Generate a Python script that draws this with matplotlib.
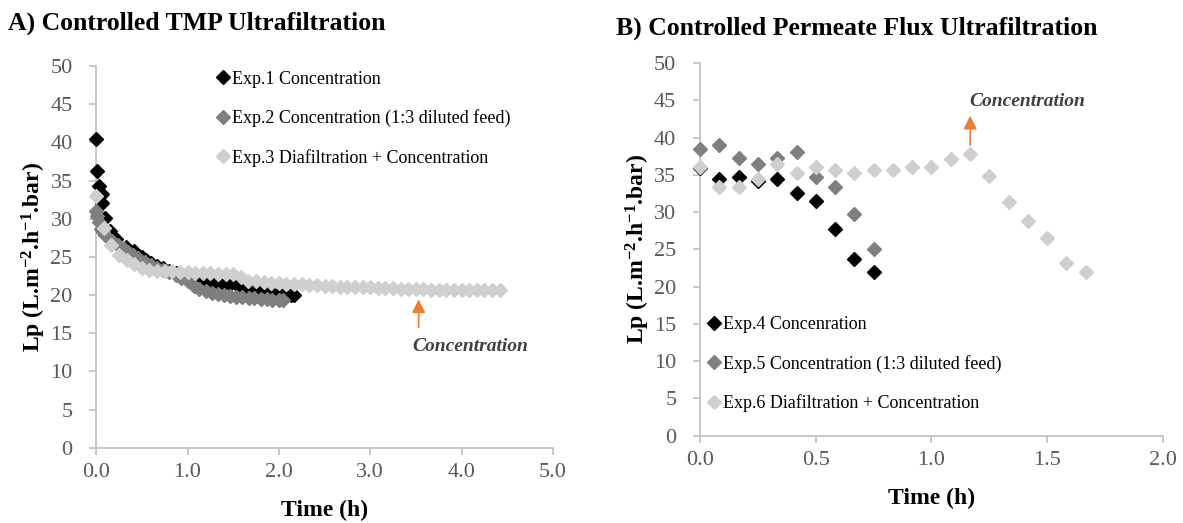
import matplotlib
matplotlib.use("Agg")
import matplotlib.pyplot as plt
from matplotlib.lines import Line2D

plt.rcParams['font.family'] = ['Liberation Serif', 'DejaVu Serif']
plt.rcParams['mathtext.fontset'] = 'custom'
plt.rcParams['mathtext.rm'] = 'Liberation Serif'
plt.rcParams['mathtext.bf'] = 'Liberation Serif:bold'
plt.rcParams['mathtext.it'] = 'Liberation Serif:italic'

# ---- panel A: controlled TMP (time in h, Lp) ----
t_exp1 = [0.0, 0.012, 0.034, 0.06, 0.067, 0.097, 0.15, 0.22, 0.33, 0.41, 0.5,
          0.55, 0.6, 0.67, 0.73, 0.8, 0.87, 0.93, 1.0, 1.07, 1.13, 1.2, 1.27,
          1.33, 1.4, 1.47, 1.53, 1.6, 1.67, 1.73, 1.8, 1.87, 1.93, 2.0, 2.07,
          2.13, 2.17]
lp_exp1 = [40.5, 36.2, 34.3, 33.2, 32.1, 30.1, 28.4, 27.4, 26.3, 25.8, 25.0,
           24.6, 24.2, 23.8, 23.5, 23.2, 22.9, 22.6, 22.3, 22.0, 21.8, 21.7, 21.6,
           21.6, 21.5, 21.5, 21.4, 21.0, 20.8, 20.7, 20.6, 20.4, 20.3, 20.2, 20.1,
           20.0, 20.0]

t_exp2 = [0.0, 0.01, 0.03, 0.05, 0.07, 0.1, 0.17, 0.24, 0.3, 0.35, 0.4, 0.46,
          0.53, 0.6, 0.67, 0.73, 0.8, 0.87, 0.93, 1.0, 1.07, 1.13, 1.2, 1.27,
          1.33, 1.4, 1.47, 1.53, 1.6, 1.67, 1.73, 1.8, 1.87, 1.93, 2.0, 2.04]
lp_exp2 = [31.0, 30.3, 29.5, 28.7, 28.2, 27.8, 27.1, 26.5, 26.0, 25.7, 25.3, 24.8,
           24.3, 23.9, 23.6, 23.3, 23.0, 22.6, 22.2, 21.8, 21.2, 20.8, 20.5, 20.3,
           20.1, 20.0, 19.9, 19.8, 19.7, 19.6, 19.6, 19.5, 19.5, 19.4, 19.4, 19.4]

t_exp3 = [0.0, 0.083, 0.167, 0.25, 0.333, 0.417, 0.5, 0.583, 0.667, 0.75, 0.833,
          0.917, 1.0, 1.083, 1.167, 1.25, 1.333, 1.417, 1.5, 1.583, 1.667, 1.75,
          1.833, 1.917, 2.0, 2.083, 2.167, 2.25, 2.333, 2.417, 2.5, 2.583, 2.667,
          2.75, 2.833, 2.917, 3.0, 3.083, 3.167, 3.25, 3.333, 3.417, 3.5, 3.583,
          3.667, 3.75, 3.833, 3.917, 4.0, 4.083, 4.167, 4.25, 4.333, 4.417]
lp_exp3 = [33.0, 28.8, 26.6, 25.3, 24.6, 24.0, 23.6, 23.3, 23.2, 23.1, 23.1,
           23.0, 23.0, 22.9, 22.9, 22.9, 22.8, 22.8, 22.8, 22.3, 21.9, 21.8,
           21.7, 21.6, 21.6, 21.5, 21.4, 21.4, 21.3, 21.3, 21.2, 21.2, 21.1,
           21.1, 21.0, 21.0, 21.0, 20.9, 20.9, 20.9, 20.8, 20.8, 20.8, 20.8,
           20.7, 20.7, 20.7, 20.7, 20.6, 20.6, 20.6, 20.6, 20.6, 20.6]

# ---- panel B: controlled permeate flux ----
t_exp4 = [0.0, 0.083, 0.167, 0.25, 0.333, 0.417, 0.5, 0.583, 0.667, 0.75]
lp_exp4 = [35.9, 34.4, 34.7, 34.2, 34.4, 32.5, 31.5, 27.7, 23.7, 21.9]

t_exp5 = [0.0, 0.083, 0.167, 0.25, 0.333, 0.417, 0.5, 0.583, 0.667, 0.75]
lp_exp5 = [38.4, 39.0, 37.2, 36.4, 37.3, 38.1, 34.7, 33.4, 29.7, 25.1]

t_exp6 = [0.0, 0.083, 0.167, 0.25, 0.333, 0.417, 0.5, 0.583, 0.667, 0.75, 0.833,
          0.917, 1.0, 1.083, 1.167, 1.25, 1.333, 1.417, 1.5, 1.583, 1.667]
lp_exp6 = [36.0, 33.3, 33.3, 34.4, 36.4, 35.3, 36.1, 35.7, 35.3, 35.7, 35.7,
           36.0, 36.1, 37.1, 37.8, 34.9, 31.4, 28.8, 26.5, 23.2, 22.0]

labels_a = ['Exp.1 Concentration', 'Exp.2 Concentration (1:3 diluted feed)',
            'Exp.3 Diafiltration + Concentration']
labels_b = ['Exp.4 Concenration', 'Exp.5 Concentration (1:3 diluted feed)',
            'Exp.6 Diafiltration + Concentration']
colors = ['#000000', '#7f7f7f', '#d0cece']

fig = plt.figure(figsize=(11.83, 5.23), dpi=100)
axA = fig.add_axes([0.0813, 0.144, 0.3861, 0.7298])
axB = fig.add_axes([0.5917, 0.1673, 0.3914, 0.7122])

ylab = r'Lp (L.m$^{\mathbf{-2}}$.h$^{\mathbf{-1}}$.bar)'
tick_col = '#595959'
spine_col = '#bfbfbf'


def style(ax, xmax, xstep, fmt):
    ax.set_ylim(0, 50)
    ax.set_xlim(0, xmax)
    ax.set_yticks(range(0, 51, 5))
    n = int(round(xmax / xstep)) + 1
    ax.set_xticks([i * xstep for i in range(n)])
    ax.set_xticklabels([fmt.format(i * xstep) for i in range(n)])
    for s in ['top', 'right']:
        ax.spines[s].set_visible(False)
    for s in ['left', 'bottom']:
        ax.spines[s].set_color(spine_col)
        ax.spines[s].set_linewidth(1.2)
    ax.tick_params(axis='both', colors=spine_col, labelcolor=tick_col,
                   labelsize=16, length=5, width=1.2, direction='out')
    ax.tick_params(axis='y', pad=12)
    ax.tick_params(axis='x', pad=6)
    ax.set_xlabel('Time (h)', fontsize=17, fontweight='bold', labelpad=13)
    ax.set_ylabel(ylab, fontsize=17, fontweight='bold')


ms = 7.6
for t, lp, c, z in [(t_exp1, lp_exp1, colors[0], 3), (t_exp2, lp_exp2, colors[1], 4),
                    (t_exp3, lp_exp3, colors[2], 5)]:
    axA.plot(t, lp, linestyle='none', marker='D', ms=ms, color=c, zorder=z, clip_on=False)
for t, lp, c, z in [(t_exp4, lp_exp4, colors[0], 3), (t_exp5, lp_exp5, colors[1], 4),
                    (t_exp6, lp_exp6, colors[2], 5)]:
    axB.plot(t, lp, linestyle='none', marker='D', ms=ms, color=c, zorder=z, clip_on=False)

style(axA, 5.0, 1.0, '{:.1f}')
style(axB, 2.0, 0.5, '{:.1f}')
axA.yaxis.set_label_coords(-0.106, 0.5)
axB.yaxis.set_label_coords(-0.104, 0.5)

handles = [Line2D([], [], linestyle='none', marker='D', ms=7, color=c) for c in colors]
axA.legend(handles, labels_a, loc='upper left', bbox_to_anchor=(0.266, 0.988),
           frameon=False, fontsize=13, handlelength=0.6, handletextpad=0.2,
           labelspacing=1.2, borderpad=0, borderaxespad=0)
axB.legend(handles, labels_b, loc='upper left', bbox_to_anchor=(0.018, 0.321),
           frameon=False, fontsize=13, handlelength=0.6, handletextpad=0.2,
           labelspacing=1.2, borderpad=0, borderaxespad=0)

arrow = dict(arrowstyle='-|>', color='#ed7d31', lw=1.2, mutation_scale=20)
axA.annotate('', xy=(3.53, 19.8), xytext=(3.53, 15.4), arrowprops=arrow)
axA.text(3.46, 13.3, 'Concentration', fontsize=14, fontweight='bold',
         fontstyle='italic', color='#404040', ha='left', va='center')
axB.annotate('', xy=(1.167, 43.3), xytext=(1.167, 38.6), arrowprops=arrow)
axB.text(1.163, 44.9, 'Concentration', fontsize=14, fontweight='bold',
         fontstyle='italic', color='#404040', ha='left', va='center')

fig.text(0.007, 0.955, 'A) Controlled TMP Ultrafiltration', fontsize=18.5,
         fontweight='bold', ha='left', va='center')
fig.text(0.521, 0.945, 'B) Controlled Permeate Flux Ultrafiltration', fontsize=18.5,
         fontweight='bold', ha='left', va='center')

fig.savefig('out.png', dpi=100)
